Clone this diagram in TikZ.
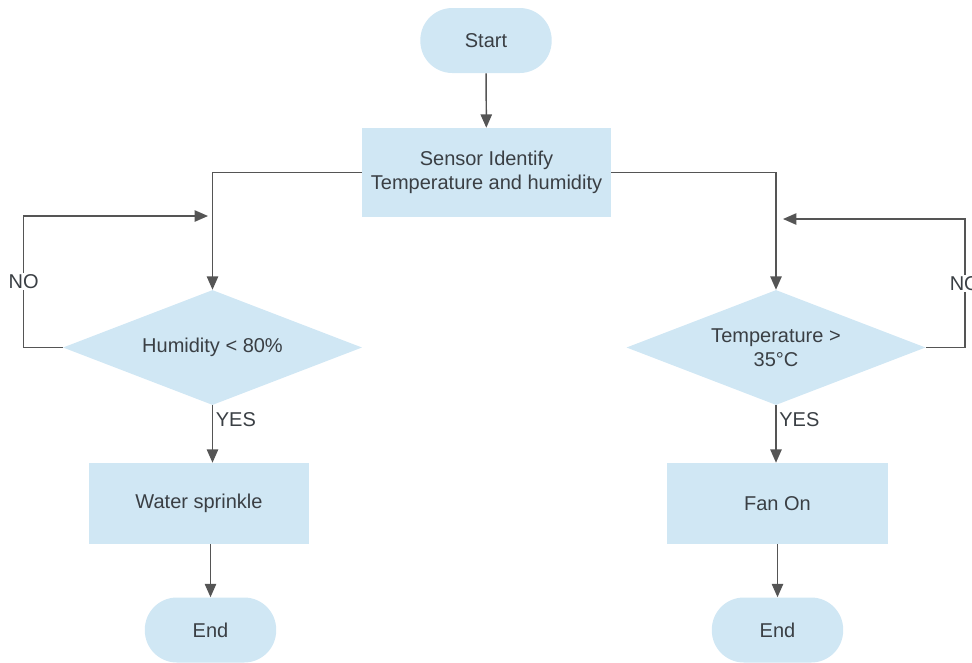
\documentclass[tikz,border=0pt]{standalone}
\usepackage{fontspec}
\setmainfont{Liberation Sans}
\usetikzlibrary{shapes.geometric,arrows.meta}
\definecolor{boxfill}{HTML}{D0E7F4}
\definecolor{linegray}{HTML}{555555}
\definecolor{txtgray}{HTML}{3A3F44}
\tikzset{
  base/.style={fill=boxfill, draw=none, text=txtgray, font=\fontsize{15}{18}\selectfont, align=center, inner sep=0pt},
  pill/.style={base, rectangle, rounded corners=24pt, minimum width=98.5pt, minimum height=48.75pt},
  procbox/.style={base, rectangle, minimum height=60.75pt},
  decision/.style={base, diamond, aspect=2.6, minimum width=224.25pt, minimum height=86.25pt},
  arr/.style={draw=linegray, line width=1.1pt, -{Triangle[length=10pt,width=8.5pt]}},
  lbl/.style={text=txtgray, font=\fontsize{15}{18}\selectfont, inner sep=1pt}
}
\begin{document}
\begin{tikzpicture}[x=0.75pt,y=-0.75pt]
\useasboundingbox (0,0) rectangle (972,662);
\node[pill] (start) at (486,40.5) {Start};
\node[base, rectangle, minimum width=186.75pt, minimum height=66.75pt] (sensor) at (486.5,172.5) {Sensor Identify\\Temperature and humidity};
\node[decision] (hum) at (212.5,347.5) {Humidity {<} 80\%};
\node[decision] (temp) at (776,347.5) {Temperature {>}\\35°C};
\node[procbox, minimum width=165pt] (water) at (199,503.5) {Water sprinkle};
\node[procbox, minimum width=165.75pt] (fan) at (777.5,503.5) {Fan On};
\node[pill] (endL) at (210.5,630) {End};
\node[pill] (endR) at (777.5,630) {End};
\coordinate (loopL) at (208,216);
\coordinate (loopR) at (783,219);

\draw[arr] (start) -- (sensor);
\draw[arr] (sensor.west) -| (hum.north);
\draw[arr] (sensor.east) -| (temp.north);
\draw[arr] (hum.west) -- ++(-39,0) |- node[lbl, fill=white, pos=0.25] (noL) {NO} (loopL);
\draw[arr] (temp.east) -- ++(39,0) |- node[lbl, fill=white, pos=0.25] (noR) {NO} (loopR);
\draw[arr] (hum.south) -- (hum.south |- water.north) node[lbl, anchor=west, pos=0.25, xshift=1pt] (yesL) {YES};
\draw[arr] (temp.south) -- (temp.south |- fan.north) node[lbl, anchor=west, pos=0.25, xshift=1pt] (yesR) {YES};
\draw[arr] (endL.north |- water.south) -- (endL.north);
\draw[arr] (endR.north |- fan.south) -- (endR.north);
\end{tikzpicture}
\end{document}
